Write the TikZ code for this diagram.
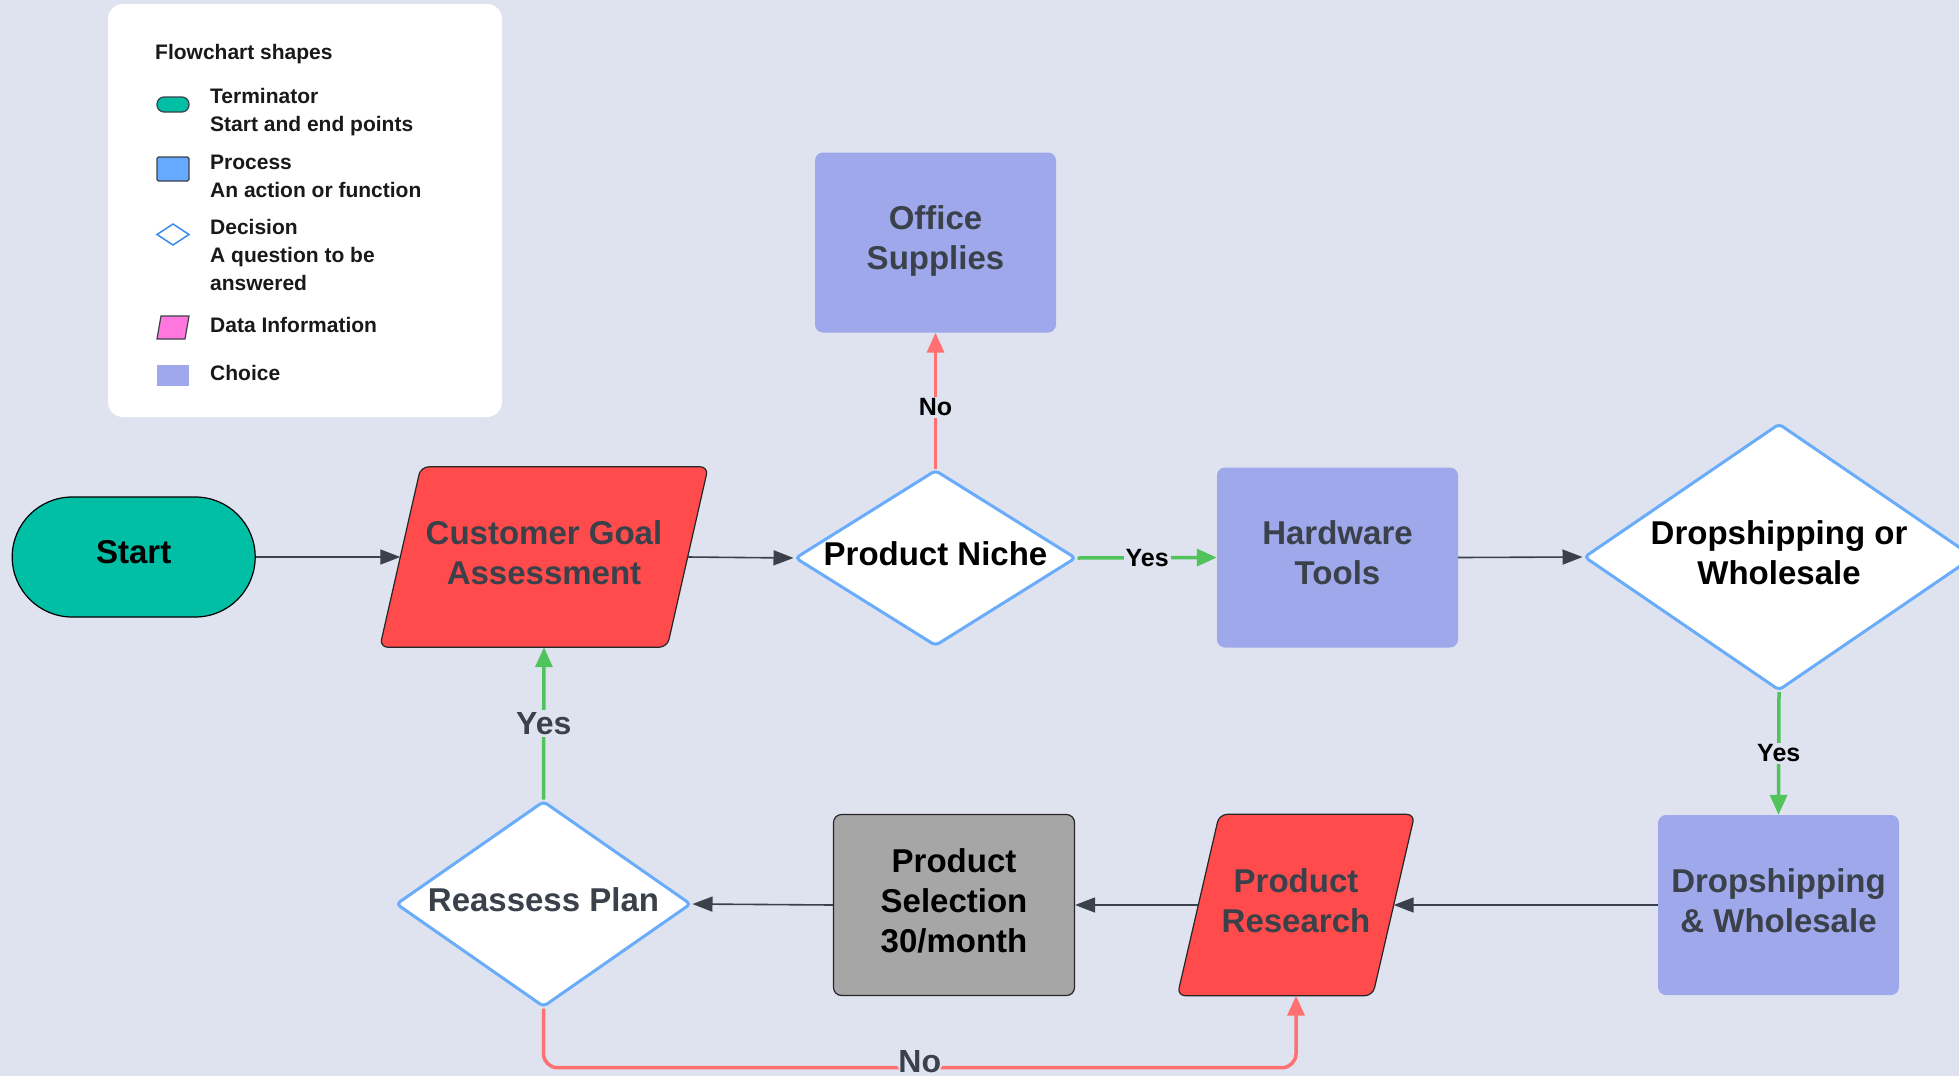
\documentclass[tikz,border=0pt]{standalone}
\usepackage{fontspec}
\setmainfont{Liberation Sans}
\usetikzlibrary{shapes.geometric,arrows.meta}
\pgfdeclarelayer{back}
\pgfsetlayers{back,main}
\definecolor{bgc}{RGB}{223,227,240}
\definecolor{txtgray}{RGB}{58,65,74}
\definecolor{legtxt}{RGB}{25,25,25}
\definecolor{termc}{RGB}{0,191,165}
\definecolor{redc}{RGB}{255,75,75}
\definecolor{choicec}{RGB}{158,168,234}
\definecolor{grayc}{RGB}{166,166,166}
\definecolor{diab}{RGB}{104,172,250}
\definecolor{arrg}{RGB}{80,196,90}
\definecolor{arrr}{RGB}{255,112,112}
\definecolor{procc}{RGB}{102,170,255}
\definecolor{decc}{RGB}{60,140,240}
\definecolor{pinkc}{RGB}{255,119,221}
\newcommand{\ntxt}[1]{\raisebox{1pt}[\height][\depth]{\begin{tabular}{@{}c@{}}#1\end{tabular}}}
\newcommand{\ntone}[1]{\raisebox{4.5pt}[\height][\depth]{#1}}
\begin{document}
\begin{tikzpicture}[x=1pt,y=-1pt,
  mainfont/.style={font=\fontsize{33}{40}\selectfont\bfseries},
  legt/.style={font=\fontsize{21}{28}\selectfont\bfseries, text=legtxt, align=left, inner sep=0pt},
  term/.style={rectangle, rounded corners=60pt, fill=termc, draw=black, line width=1.2pt, minimum width=243pt, minimum height=120pt, mainfont, text=black},
  choice/.style={rectangle, fill=choicec, rounded corners=8pt, minimum width=241pt, minimum height=180pt, text=txtgray, mainfont},
  procbox/.style={rectangle, fill=grayc, draw=black!85, line width=1.2pt, rounded corners=8pt, minimum width=241pt, minimum height=181pt, text=black, mainfont},
  decision/.style={diamond, draw=diab, line width=3pt, fill=white, inner sep=0pt, rounded corners=4pt, mainfont},
  para/.style={rectangle, inner sep=0pt, text=txtgray, mainfont},
  parashape/.style={fill=redc, draw=black!85, line width=1.2pt, rounded corners=8pt},
  conn/.style={draw=txtgray, line width=1.6pt, -{Triangle[length=20pt,width=15pt]}},
  yesc/.style={draw=arrg, line width=3.5pt, -{Triangle[length=20pt,width=17pt]}},
  noc/.style={draw=arrr, line width=3.5pt, -{Triangle[length=20pt,width=17pt]}},
  lab/.style={fill=bgc, inner sep=2pt, font=\fontsize{25}{30}\selectfont\bfseries, text=black},
  biglab/.style={fill=bgc, inner sep=2pt, font=\fontsize{32}{38}\selectfont\bfseries, text=txtgray}
]
\useasboundingbox (0,0) rectangle (1959,1076);
\clip (0,0) rectangle (1959,1076);

% legend
\fill[white, rounded corners=15pt] (108,4) rectangle (502,417);
\node[legt, anchor=west] (lgtitle) at (155,54) {Flowchart shapes};
\draw[fill=termc, draw=txtgray, line width=1.2pt, rounded corners=7pt] (157,97) rectangle (189,112);
\node[legt, anchor=west] (lgterm) at (210,112) {Terminator\\Start and end points};
\draw[fill=procc, draw=txtgray, line width=1.2pt, rounded corners=1.5pt] (157,157) rectangle (189,181);
\node[legt, anchor=west] (lgproc) at (210,176) {Process\\An action or function};
\draw[fill=white, draw=decc, line width=1.5pt] (157,234.5) -- (173,224) -- (189,234.5) -- (173,245) -- cycle;
\node[legt, anchor=west] (lgdec) at (210,255) {Decision\\A question to be\\answered};
\draw[fill=pinkc, draw=txtgray, line width=1.2pt] (157,339) -- (161,316) -- (189,316) -- (185,339) -- cycle;
\node[legt, anchor=west] (lgdata) at (210,325) {Data Information};
\fill[choicec] (157,365) rectangle (189,386);
\node[legt, anchor=west] (lgchoice) at (210,373) {Choice};

% nodes
\node[term] (start) at (133.7,557) {\ntone{Start}};
\node[para, minimum width=287pt, minimum height=180pt] (cga) at (544,557) {\ntxt{Customer Goal\\Assessment}};
\node[decision, aspect=1.6, minimum width=281pt, minimum height=176pt, text=black] (niche) at (935.5,558) {\ntone{Product Niche}};
\node[choice] (office) at (935.5,242.5) {\ntxt{Office\\Supplies}};
\node[choice] (hw) at (1337.5,557.5) {\ntxt{Hardware\\Tools}};
\node[decision, aspect=1.46, minimum width=390pt, minimum height=267pt, text=black] (dw) at (1779,557) {\ntxt{Dropshipping or\\Wholesale}};
\node[choice] (dws) at (1778.5,905) {\ntxt{Dropshipping\\\& Wholesale}};
\node[para, minimum width=195pt, minimum height=181pt] (pr) at (1296,905) {\ntxt{Product\\Research}};
\node[procbox] (ps) at (954,905) {\ntxt{Product\\Selection\\30/month}};
\node[decision, aspect=1.43, minimum width=295pt, minimum height=206pt, text=txtgray] (rp) at (543.5,904) {\ntone{Reassess Plan}};

\begin{pgfonlayer}{back}
\fill[bgc] (0,0) rectangle (1959,1076);
\path[parashape] ([xshift=-20.5pt]cga.south west) -- ([xshift=20.5pt]cga.north west) -- ([xshift=20.5pt]cga.north east) -- ([xshift=-20.5pt]cga.south east) -- cycle;
\path[parashape] ([xshift=-21pt]pr.south west) -- ([xshift=21pt]pr.north west) -- ([xshift=21pt]pr.north east) -- ([xshift=-21pt]pr.south east) -- cycle;
\end{pgfonlayer}

% connectors
\draw[conn] (start.east) -- (cga.west);
\draw[conn] (cga.east) -- (niche.west);
\draw[yesc] (niche.east) -- node[lab]{Yes} (hw.west);
\draw[noc] (niche.north) -- node[lab, pos=0.45]{No} (office.south);
\draw[conn] (hw.east) -- (dw.west);
\draw[yesc] (dw.south) -- node[lab]{Yes} (dws.north);
\draw[conn] (dws.west) -- (pr.east);
\draw[conn] (pr.west) -- (ps.east);
\draw[conn] (ps.west) -- (rp.east);
\draw[yesc] (rp.north) -- node[biglab]{Yes} (cga.south);
\draw[noc, rounded corners=14pt] (rp.south) |- node[pos=0.75, biglab, yshift=6pt]{No} ([yshift=-72pt]pr.south) -- (pr.south);
\end{tikzpicture}
\end{document}
